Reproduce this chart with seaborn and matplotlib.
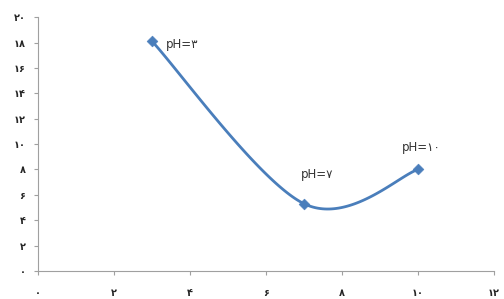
import matplotlib
matplotlib.use("Agg")
import matplotlib.pyplot as plt
import seaborn as sns
import numpy as np
import pandas as pd

# Data
ph_x = [3, 7, 10]
value_y = [18.1, 5.3, 8.0]
point_labels = ["pH=۳", "pH=۷", "pH=۱۰"]
x_ticks = [0, 2, 4, 6, 8, 10, 12]
x_tick_labels = ["۰", "۲", "۴", "۶", "۸", "۱۰", "۱۲"]
y_ticks = [0, 2, 4, 6, 8, 10, 12, 14, 16, 18, 20]
y_tick_labels = ["۰", "۲", "۴", "۶", "۸", "۱۰", "۱۲", "۱۴", "۱۶", "۱۸", "۲۰"]

sns.set_style("white")
plt.rcParams['font.family'] = ['DejaVu Sans']

# Excel-style smoothed line (Bezier with tension 1/6)
pts = np.column_stack([ph_x, value_y]).astype(float)
curve = []
t = np.linspace(0, 1, 60)
for i in range(len(pts) - 1):
    p_prev = pts[max(i - 1, 0)]
    p0 = pts[i]
    p1 = pts[i + 1]
    p_next = pts[min(i + 2, len(pts) - 1)]
    c1 = p0 + (p1 - p_prev) / 6
    c2 = p1 - (p_next - p0) / 6
    seg = ((1 - t) ** 3)[:, None] * p0 + (3 * (1 - t) ** 2 * t)[:, None] * c1 \
        + (3 * (1 - t) * t ** 2)[:, None] * c2 + (t ** 3)[:, None] * p1
    curve.append(seg)
curve = np.vstack(curve)
df_curve = pd.DataFrame({"x": curve[:, 0], "y": curve[:, 1]})
df_pts = pd.DataFrame({"x": ph_x, "y": value_y})

fig = plt.figure(figsize=(5.04, 2.99), dpi=100)
ax = fig.add_axes([0.0754, 0.0936, 0.905, 0.849])

blue = "#4a7ebb"
sns.lineplot(data=df_curve, x="x", y="y", sort=False, color=blue, linewidth=2, ax=ax)
sns.scatterplot(data=df_pts, x="x", y="y", marker="D", s=30, color=blue,
                edgecolor=blue, ax=ax, zorder=3)

offsets = [(10, -2), (9, 21), (2, 16)]
aligns = ["left", "center", "center"]
for x, y, lab, off, ha in zip(ph_x, value_y, point_labels, offsets, aligns):
    ax.annotate(lab, (x, y), xytext=off, textcoords="offset points",
                ha=ha, va="center", fontsize=8.5, color="#333333")

ax.set_xlim(0, 12)
ax.set_ylim(0, 20)
ax.set_xticks(x_ticks)
ax.set_xticklabels(x_tick_labels, fontsize=7, fontweight="bold")
ax.set_yticks(y_ticks)
ax.set_yticklabels(y_tick_labels, fontsize=7, fontweight="bold")
ax.set_xlabel("")
ax.set_ylabel("")

for side in ["top", "right"]:
    ax.spines[side].set_visible(False)
for side in ["left", "bottom"]:
    ax.spines[side].set_color("#a0a0a0")
    ax.spines[side].set_linewidth(0.8)
ax.tick_params(axis="x", length=3, color="#a0a0a0", pad=9, direction="out", bottom=True)
ax.tick_params(axis="y", length=3, color="#a0a0a0", pad=6, direction="out", left=True)

fig.savefig("out.png", dpi=100)
